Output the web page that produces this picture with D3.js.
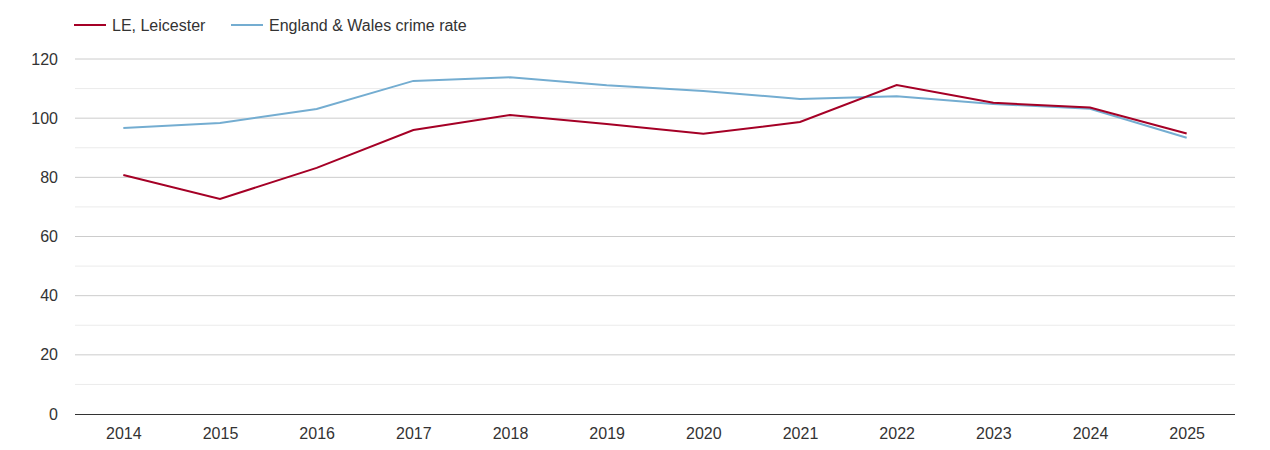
<!DOCTYPE html>
<html>
<head>
<meta charset="utf-8">
<script src="https://cdn.jsdelivr.net/npm/d3@7"></script>
<style>
  body { margin: 0; background: #fff; font-family: "Liberation Sans", Arial, sans-serif; }
  svg text { fill: #333; }
</style>
</head>
<body>
<svg id="chart" width="1270" height="450"></svg>
<script>
const years = ['2014', '2015', '2016', '2017', '2018', '2019', '2020', '2021', '2022', '2023', '2024', '2025'];
const leicester = [80.8, 72.7, 83.2, 96.0, 101.1, 98.0, 94.7, 98.7, 111.2, 105.2, 103.6, 94.8];
const englandWales = [96.7, 98.4, 103.1, 112.6, 113.8, 111.1, 109.2, 106.5, 107.4, 104.8, 103.2, 93.4];
const yTicks = [0, 20, 40, 60, 80, 100, 120];
const seriesNames = ['LE, Leicester', 'England & Wales crime rate'];
const colors = ['#a50026', '#74add1'];

let svg = d3.select('#chart');
let marginLeft = 75, marginRight = 1235, marginTop = 59, marginBottom = 414;
let font = '"Liberation Sans", Arial, sans-serif';

let x = d3.scalePoint()
    .domain(years)
    .range([marginLeft, marginRight])
    .padding(0.5);

let y = d3.scaleLinear()
    .domain([0, 120])
    .range([marginBottom, marginTop]);

// minor gridlines every 10
svg.append('g')
    .selectAll('line')
    .data(d3.range(10, 120, 20))
    .enter().append('line')
    .attr('x1', marginLeft).attr('x2', marginRight)
    .attr('y1', d => y(d)).attr('y2', d => y(d))
    .attr('stroke', '#ebebeb');

// major gridlines
svg.append('g')
    .selectAll('line')
    .data(yTicks.slice(1))
    .enter().append('line')
    .attr('x1', marginLeft).attr('x2', marginRight)
    .attr('y1', d => y(d)).attr('y2', d => y(d))
    .attr('stroke', '#cccccc');

let yAxis = svg.append('g')
    .attr('transform', `translate(${marginLeft},0)`)
    .call(d3.axisLeft(y).tickValues(yTicks).tickSize(0).tickPadding(17));
yAxis.select('.domain').remove();
yAxis.selectAll('text').attr('font-size', 16).attr('font-family', font).style('fill', '#333');

let xAxis = svg.append('g')
    .attr('transform', `translate(0,${marginBottom})`)
    .call(d3.axisBottom(x).tickSize(0).tickPadding(14));
xAxis.select('.domain').attr('stroke', '#333').attr('d', `M${marginLeft},0.5H${marginRight}`);
xAxis.selectAll('text').attr('font-size', 16).attr('font-family', font).style('fill', '#333');

let line = d3.line()
    .x((d, i) => x(years[i]))
    .y(d => y(d));

svg.append('path')
    .datum(englandWales)
    .attr('fill', 'none')
    .attr('stroke', colors[1])
    .attr('stroke-width', 2)
    .attr('d', line);

svg.append('path')
    .datum(leicester)
    .attr('fill', 'none')
    .attr('stroke', colors[0])
    .attr('stroke-width', 2)
    .attr('d', line);

// legend
let legend = svg.append('g');
let legendX = [74, 231];
seriesNames.forEach((name, i) => {
    legend.append('line')
        .attr('x1', legendX[i]).attr('x2', legendX[i] + 32)
        .attr('y1', 25).attr('y2', 25)
        .attr('stroke', colors[i])
        .attr('stroke-width', 2);
    legend.append('text')
        .attr('x', legendX[i] + 38)
        .attr('y', 31)
        .attr('font-size', 16)
        .attr('font-family', font)
        .text(name);
});
</script>
</body>
</html>
